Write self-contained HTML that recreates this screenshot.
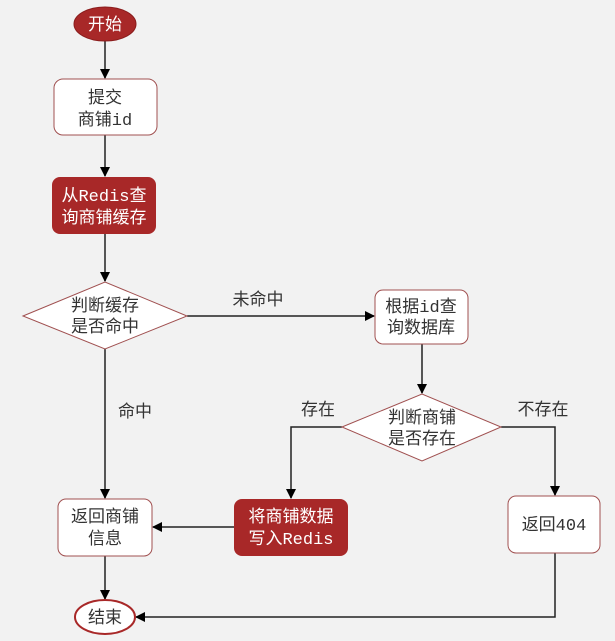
<!DOCTYPE html>
<html><head><meta charset="utf-8"><style>
html,body{margin:0;padding:0;background:#f2f2f2;}
svg{display:block;font-family:"Liberation Mono","Noto Sans CJK SC",monospace;}
</style></head><body>
<svg width="615" height="641" viewBox="0 0 615 641" xmlns="http://www.w3.org/2000/svg">
<defs><marker id="a" markerWidth="10" markerHeight="10" refX="9" refY="5" orient="auto" markerUnits="userSpaceOnUse"><path d="M0,0 L10,5 L0,10 z" fill="#000"/></marker></defs>
<rect width="615" height="641" fill="#f2f2f2"/>
<g stroke="#222" stroke-width="1.5" fill="none">
<line x1="105" y1="41" x2="105" y2="78" marker-end="url(#a)"/>
<line x1="105" y1="135" x2="105" y2="176" marker-end="url(#a)"/>
<line x1="105" y1="234" x2="105" y2="281" marker-end="url(#a)"/>
<line x1="105" y1="349" x2="105" y2="498" marker-end="url(#a)"/>
<line x1="187" y1="316" x2="374" y2="316" marker-end="url(#a)"/>
<line x1="422" y1="344" x2="422" y2="393" marker-end="url(#a)"/>
<polyline points="342,427 291,427 291,498" marker-end="url(#a)"/>
<polyline points="501,427 555,427 555,495" marker-end="url(#a)"/>
<line x1="234" y1="527" x2="153" y2="527" marker-end="url(#a)"/>
<line x1="105" y1="556" x2="105" y2="599" marker-end="url(#a)"/>
<polyline points="555,553 555,617 136,617" marker-end="url(#a)"/>
</g>
<ellipse cx="105" cy="24" rx="31" ry="17" fill="#a82828" stroke="#8a1c1c"/>
<rect x="54" y="79" width="103" height="56" rx="9" fill="#fff" stroke="#a05050"/>
<rect x="52" y="177" width="104" height="57" rx="8" fill="#a82828"/>
<polygon points="23,316 105,282 187,316 105,349" fill="#fff" stroke="#a05050"/>
<rect x="375" y="290" width="93" height="54" rx="8" fill="#fff" stroke="#a05050"/>
<polygon points="342,427 422,394 501,427 422,461" fill="#fff" stroke="#a05050"/>
<rect x="234" y="499" width="114" height="57" rx="8" fill="#a82828"/>
<rect x="58" y="499" width="94" height="57" rx="8" fill="#fff" stroke="#a05050"/>
<rect x="508" y="496" width="92" height="57" rx="8" fill="#fff" stroke="#a05050"/>
<ellipse cx="105" cy="617" rx="30" ry="17" fill="#fff" stroke="#a82828" stroke-width="2"/>
<g font-size="17" text-anchor="middle" fill="#333">
<text x="105" y="30" fill="#fff">开始</text>
<text x="105" y="103">提交</text><text x="105" y="125">商铺id</text>
<text x="104" y="201" fill="#fff">从Redis查</text><text x="104" y="223" fill="#fff">询商铺缓存</text>
<text x="105" y="311">判断缓存</text><text x="105" y="332">是否命中</text>
<text x="258" y="305">未命中</text>
<text x="421" y="312">根据id查</text><text x="421" y="333">询数据库</text>
<text x="422" y="423">判断商铺</text><text x="422" y="444">是否存在</text>
<text x="318" y="415">存在</text>
<text x="543" y="415">不存在</text>
<text x="135" y="417">命中</text>
<text x="291" y="522" fill="#fff">将商铺数据</text><text x="291" y="544" fill="#fff">写入Redis</text>
<text x="105" y="522">返回商铺</text><text x="105" y="544">信息</text>
<text x="554" y="530">返回404</text>
<text x="105" y="623">结束</text>
</g>
</svg>
</body></html>
